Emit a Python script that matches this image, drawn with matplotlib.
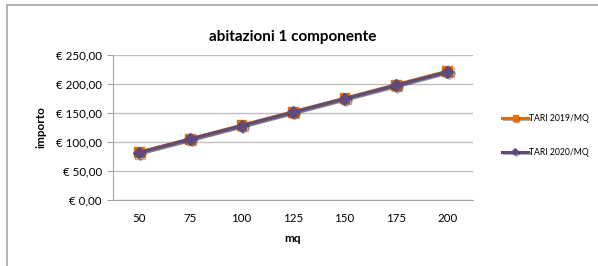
import matplotlib
matplotlib.use('Agg')
import matplotlib.pyplot as plt
import matplotlib.patheffects as pe
from matplotlib.ticker import FuncFormatter, MultipleLocator
from matplotlib.patches import Rectangle

mq = ['50', '75', '100', '125', '150', '175', '200']
tari_2019 = [82.3, 105.6, 128.9, 152.2, 175.5, 198.8, 222.1]
tari_2020 = [81.8, 105.0, 128.2, 151.4, 174.6, 197.8, 221.0]

plt.rcParams['font.family'] = ['Lato', 'DejaVu Sans']

fig = plt.figure(figsize=(5.98, 2.66), dpi=100)
fig.patches.append(Rectangle((7 / 598, -0.1), 1.2, 1 - 5 / 266 + 0.1,
	transform=fig.transFigure, fill=False, edgecolor='#A6A6A6', linewidth=1.2))

ax = fig.add_axes([113 / 598, 1 - 200 / 266, 360 / 598, 145 / 266])
x = range(len(mq))

shadow = [pe.SimpleLineShadow(offset=(1, -1), alpha=0.3), pe.Normal()]
ax.plot(x, tari_2019, color='#E46C0A', linewidth=2.2, marker='s', markersize=7,
		label='TARI 2019/MQ', path_effects=shadow, zorder=3)
ax.plot(x, tari_2020, color='#604A7B', linewidth=2.2, marker='D', markersize=6,
		label='TARI 2020/MQ', path_effects=shadow, zorder=4)

ax.set_xlim(-0.5, len(mq) - 0.5)
ax.set_ylim(0, 250)
ax.set_xticks(list(x))
ax.set_xticklabels(mq)
ax.yaxis.set_major_locator(MultipleLocator(50))
ax.yaxis.set_major_formatter(FuncFormatter(lambda v, p: '€ %s' % ('%.2f' % v).replace('.', ',')))

ax.grid(axis='y', color='#BFBFBF', linewidth=1)
ax.set_axisbelow(True)
for s in ['top', 'right']:
	ax.spines[s].set_visible(False)
for s in ['left', 'bottom']:
	ax.spines[s].set_color('#A6A6A6')
ax.tick_params(axis='y', length=4, color='#A6A6A6', labelsize=8.3, pad=4)
ax.tick_params(axis='x', length=0, labelsize=8.3, pad=9)

ax.set_ylabel('importo', fontsize=8.5, fontweight='bold', labelpad=7)
ax.set_xlabel('mq', fontsize=8.5, fontweight='bold', labelpad=7)
ax.set_title('abitazioni 1 componente', fontsize=11, fontweight='bold', pad=10)

ax.legend(loc='center left', bbox_to_anchor=(1.06, 0.445), frameon=False,
		  fontsize=6.2, labelspacing=2.9, handlelength=3, handletextpad=0.15,
		  markerscale=0.55)

fig.savefig('out.png', dpi=100)
